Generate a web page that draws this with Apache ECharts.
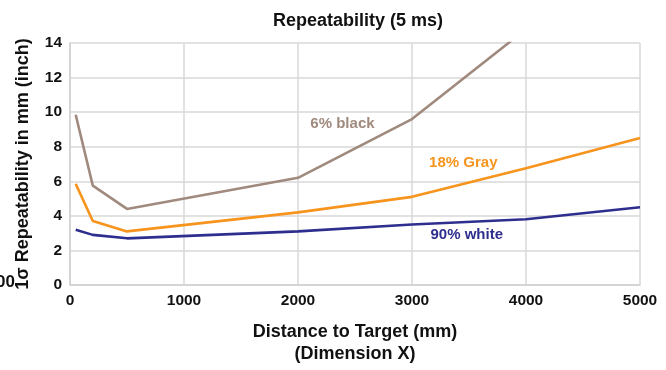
<!DOCTYPE html>
<html><head><meta charset="utf-8">
<script src="https://cdn.jsdelivr.net/npm/echarts@6/dist/echarts.min.js"></script>
<style>html,body{margin:0;padding:0;background:#fff}#c{width:666px;height:370px}</style>
</head><body><div id="c"></div>
<script>
const distances = [50, 200, 500, 2000, 3000, 4000, 5000];
const black6 = [9.85, 5.75, 4.4, 6.2, 9.6, 14.8, null];
const gray18 = [5.85, 3.7, 3.1, 4.2, 5.1, 6.75, 8.5];
const white90 = [3.2, 2.9, 2.7, 3.1, 3.5, 3.8, 4.5];
const seriesNames = ['6% black', '18% Gray', '90% white'];
const labelSpots = [[2390, 9.3], [3450, 7.05], [3480, 2.9]];
const xTicks = [0, 1000, 2000, 3000, 4000, 5000];
const yTicks = [0, 2, 4, 6, 8, 10, 12, 14];
const colors = ['#a08a7e', '#f7941d', '#2e2e8f'];
const FONT = '"Liberation Sans", Arial, sans-serif';

function pairs(vals){ return distances.map((d,i)=>vals[i]==null?null:[d,vals[i]]).filter(p=>p); }
const all = [black6, gray18, white90];
const chart = echarts.init(document.getElementById('c'));
chart.setOption({
  animation: false,
  title: { text: 'Repeatability (5 ms)', left: 353, top: 7, textAlign: 'center',
    textStyle: { fontFamily: FONT, fontSize: 18, fontWeight: 'bold', color: '#111' } },
  grid: { left: 70, right: 26, top: 43, bottom: 85 },
  xAxis: { type: 'value', min: 0, max: 5000, interval: 1000,
    name: 'Distance to Target (mm)\n(Dimension X)', nameLocation: 'middle', nameGap: 36,
    nameTextStyle: { fontFamily: FONT, fontSize: 18, fontWeight: 'bold', color: '#111', lineHeight: 22 },
    axisLine: { lineStyle: { color: '#d0d0d0', width: 1.5 } }, axisTick: { show: false },
    axisLabel: { fontFamily: FONT, fontSize: 15.5, fontWeight: 'bold', color: '#111', margin: 8,
      formatter: v => xTicks.includes(v) ? String(v) : '' },
    splitLine: { lineStyle: { color: '#d9d9d9', width: 1.5 } } },
  yAxis: { type: 'value', min: 0, max: 14, interval: 2,
    name: '1σ Repeatability in mm (inch)', nameLocation: 'middle', nameGap: 38, nameRotate: 90,
    nameTextStyle: { fontFamily: FONT, fontSize: 18, fontWeight: 'bold', color: '#111' },
    axisLine: { show: true, lineStyle: { color: '#d0d0d0', width: 1.5 } }, axisTick: { show: false },
    axisLabel: { fontFamily: FONT, fontSize: 15.5, fontWeight: 'bold', color: '#111', margin: 8,
      formatter: v => yTicks.includes(v) ? String(v) : '' },
    splitLine: { lineStyle: { color: '#d9d9d9', width: 1.5 } } },
  graphic: [{ type: 'text', left: -4, top: 274,
    style: { text: '00', fontFamily: FONT, fontSize: 17, fontWeight: 'bold', fill: '#111' } }],
  series: all.map((vals, i) => ({
    name: seriesNames[i], type: 'line', data: pairs(vals), showSymbol: false, symbol: 'none',
    clip: true, z: 3 - i,
    lineStyle: { color: colors[i], width: 2.6 },
    markPoint: { symbol: 'circle', symbolSize: 0, silent: true,
      data: [{ coord: labelSpots[i], value: seriesNames[i] }],
      label: { show: true, position: 'inside', formatter: seriesNames[i], color: colors[i],
        fontFamily: FONT, fontSize: 15, fontWeight: 'bold' } }
  }))
});
</script></body></html>
